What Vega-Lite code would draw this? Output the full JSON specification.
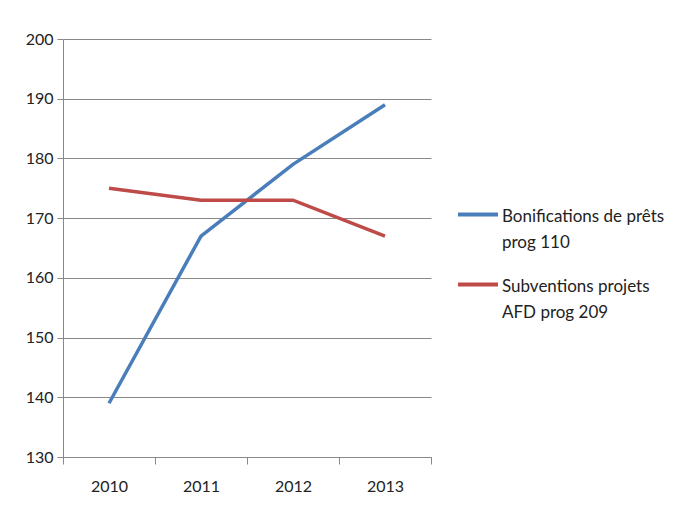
{
  "$schema": "https://vega.github.io/schema/vega-lite/v6.json",
  "width": 368,
  "height": 418,
  "autosize": "none",
  "padding": {"left": 63, "top": 39, "right": 243, "bottom": 54},
  "background": "white",
  "data": {
    "values": [
      {"year": "2010", "series": "Bonifications de prêts prog 110", "value": 139},
      {"year": "2011", "series": "Bonifications de prêts prog 110", "value": 167},
      {"year": "2012", "series": "Bonifications de prêts prog 110", "value": 179},
      {"year": "2013", "series": "Bonifications de prêts prog 110", "value": 189},
      {"year": "2010", "series": "Subventions projets AFD prog 209", "value": 175},
      {"year": "2011", "series": "Subventions projets AFD prog 209", "value": 173},
      {"year": "2012", "series": "Subventions projets AFD prog 209", "value": 173},
      {"year": "2013", "series": "Subventions projets AFD prog 209", "value": 167}
    ]
  },
  "mark": {"type": "line", "strokeWidth": 3.5},
  "encoding": {
    "x": {
      "field": "year",
      "type": "nominal",
      "scale": {"type": "band", "paddingInner": 0, "paddingOuter": 0},
      "axis": {
        "title": null,
        "labelAngle": 0,
        "tickBand": "extent",
        "domainColor": "#888888",
        "tickColor": "#888888",
        "tickSize": 7,
        "labelFont": "Lato",
        "labelFontSize": 16,
        "labelColor": "#222222",
        "labelPadding": 14
      }
    },
    "y": {
      "field": "value",
      "type": "quantitative",
      "scale": {"domain": [130, 200], "zero": false, "nice": false},
      "axis": {
        "title": null,
        "values": [130, 140, 150, 160, 170, 180, 190, 200],
        "grid": true,
        "gridColor": "#888888",
        "domainColor": "#888888",
        "tickColor": "#888888",
        "tickSize": 6,
        "labelFont": "Lato",
        "labelFontSize": 16,
        "labelColor": "#222222",
        "labelPadding": 4
      }
    },
    "color": {
      "field": "series",
      "type": "nominal",
      "scale": {"range": ["#4a7ebb", "#be4b48"]},
      "legend": {
        "title": null,
        "orient": "none",
        "legendX": 393,
        "legendY": 148,
        "symbolType": "M-1,0.27H1",
        "symbolSize": 1600,
        "symbolStrokeWidth": 4,
        "symbolFillColor": "transparent",
        "labelFont": "Lato",
        "labelFontSize": 17,
        "labelColor": "#222222",
        "labelOffset": 2,
        "labelLimit": 300,
        "labelBaseline": "top",
        "rowPadding": 6,
        "labelExpr": "datum.label == 'Bonifications de prêts prog 110' ? ['Bonifications de prêts', 'prog 110'] : ['Subventions projets', 'AFD prog 209']",
        "encode": {"labels": {"update": {"lineHeight": {"value": 26}}}}
      }
    }
  },
  "config": {
    "view": {"stroke": null},
    "style": {"guide-label": {"lineHeight": 26}}
  }
}
